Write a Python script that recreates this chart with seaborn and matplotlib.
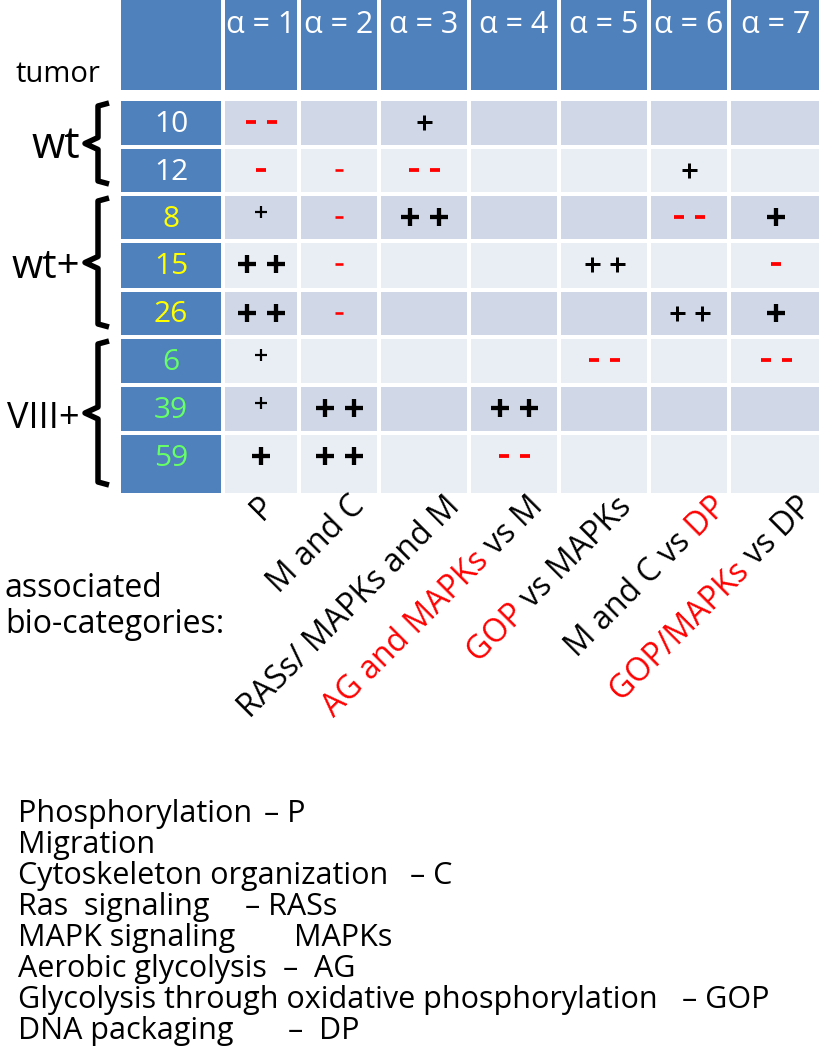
import numpy as np
import seaborn as sns
import matplotlib.pyplot as plt
from matplotlib.colors import ListedColormap

# table content
alphas = [1, 2, 3, 4, 5, 6, 7]
tumors = ["10", "12", "8", "15", "26", "6", "39", "59"]
groups = ["wt", "wt+", "VIII+"]
group_rows = [2, 3, 3]

# enrichment marks, one row per tumor, one column per alpha
marks = [
    ["--", "",   "+",  "",   "",   "",   ""],
    ["-",  "-",  "--", "",   "",   "+",  ""],
    ["+",  "-",  "++", "",   "",   "--", "+"],
    ["++", "-",  "",   "",   "++", "",   "-"],
    ["++", "-",  "",   "",   "",   "++", "+"],
    ["+",  "",   "",   "",   "--", "",   "--"],
    ["+",  "++", "",   "++", "",   "",   ""],
    ["+",  "++", "",   "--", "",   "",   ""],
]

# associated bio-categories per alpha (True = written in red)
categories = [
    [("P", False)],
    [("M and C", False)],
    [("RASs/ MAPKs and M", False)],
    [("AG and MAPKs", True), (" vs M", False)],
    [("GOP", True), (" vs MAPKs", False)],
    [("M and C vs", False), (" DP", True)],
    [("GOP/MAPKs", True), (" vs DP", False)],
]

legend_terms = ["Phosphorylation", "Migration", "Cytoskeleton organization",
                "Ras  signaling", "MAPK signaling", "Aerobic glycolysis",
                "Glycolysis through oxidative phosphorylation", "DNA packaging"]
legend_abbrevs = ["\u2013 P", "", "\u2013 C", "\u2013 RASs", "MAPKs",
                  "\u2013  AG", "\u2013 GOP", "\u2013  DP"]

# ---- styling / layout ----
# drawn size of each mark: s small, m medium, b big
mark_size = [
    ["m", "",  "m", "",  "",  "",  ""],
    ["m", "s", "m", "",  "",  "m", ""],
    ["s", "s", "b", "",  "",  "m", "b"],
    ["b", "s", "",  "",  "m", "",  "m"],
    ["b", "s", "",  "",  "",  "m", "b"],
    ["s", "",  "",  "",  "m", "",  "m"],
    ["s", "b", "",  "b", "",  "",  ""],
    ["b", "b", "",  "m", "",  "",  ""],
]
plus_style = {"s": (12, 2.2, 20), "m": (15, 3.0, 25), "b": (18, 4.3, 29)}  # width, stroke, pair gap (px)
dash_style = {"s": (8, 2.6, 20), "m": (10, 3.8, 21)}
group_colors = {"wt": "white", "wt+": "#FFFF00", "VIII+": "#66FF66"}
group_fs = {"wt": 31, "wt+": 29, "VIII+": 26}
blue, shade_dark, shade_light = "#4F81BD", "#D0D8E8", "#E9EDF4"

W, H = 819, 1050
col_edges = [119, 223, 299, 379, 469, 559, 649, 729, 823]
row_edges = [99, 146.5, 194, 241, 289.5, 337, 385, 432.5, 495]
col_mid = [(a + b) / 2 for a, b in zip(col_edges[:-1], col_edges[1:])]
label_dx = [-3, 9, 19, 13, 11, 21, 20]
legend_top, legend_step = 822, 31
abbrev_x = [264, 0, 410, 245, 294, 283, 682, 288]
px = 0.72  # points per pixel at 100 dpi

sns.set_theme(style="white")
plt.rcParams["font.family"] = ["Open Sans", "DejaVu Sans"]
plt.rcParams["text.color"] = "black"

fig = plt.figure(figsize=(8.19, 10.5), dpi=100)
ax = fig.add_axes([0, 0, 1, 1])
ax.set_xlim(0, W)
ax.set_ylim(H, 0)
ax.axis("off")

cell_cmap = ListedColormap([shade_dark, shade_light, blue])
head = np.full((1, len(col_edges) - 1), 2)
ax.pcolormesh(col_edges, [-5, 92], head, cmap=cell_cmap, vmin=0, vmax=2,
              edgecolors="white", linewidth=4 * px)
shade = np.array([[2] + [i % 2] * len(alphas) for i in range(len(tumors))])
ax.pcolormesh(col_edges, row_edges, shade, cmap=cell_cmap, vmin=0, vmax=2,
              edgecolors="white", linewidth=4 * px)

# header
for j, a in enumerate(alphas):
    ax.text(col_mid[j + 1], 33, f"\u03b1 = {a}", ha="center", va="baseline",
            color="white", fontsize=22)
ax.text(15, 82, "tumor", ha="left", va="baseline", fontsize=21)

# tumor ids, braces and group names
row_group = [g for g, n in zip(groups, group_rows) for _ in range(n)]
for i, t in enumerate(tumors):
    ax.text(col_mid[0], row_edges[i] + 33, t, ha="center", va="baseline",
            color=group_colors[row_group[i]], fontsize=21.5)

start = 0
for g, n in zip(groups, group_rows):
    top = row_edges[start] + 4
    bot = row_edges[start + n] - 10
    mid = (top + bot) / 2
    bx = [109, 98, 98, 85, 98, 98, 109]
    by = [top, top + 3, mid - 6, mid, mid + 6, bot - 3, bot]
    ax.plot(bx, by, color="black", lw=5.5 * px, solid_joinstyle="round",
            solid_capstyle="butt")
    ax.text(80, mid + 15, g, ha="right", va="baseline", fontsize=group_fs[g])
    start += n

# marks
for i, row in enumerate(marks):
    yc = row_edges[i] + 23
    for j, m in enumerate(row):
        if not m:
            continue
        size = mark_size[i][j]
        if m[0] == "+":
            w, lw, gap = plus_style[size]
            marker, color = "+", "black"
            y = yc - (5 if size == "s" else 0)
        else:
            w, lw, gap = dash_style[size]
            marker, color = "_", "red"
            y = yc
        x = col_mid[j + 1]
        xs = [x] if len(m) == 1 else [x - gap / 2, x + gap / 2]
        ax.scatter(xs, [y] * len(xs), marker=marker, s=(w * px) ** 2,
                   linewidths=lw * px, color=color, zorder=3)

# rotated bio-category labels
fig.canvas.draw()
renderer = fig.canvas.get_renderer()
lab_fs = 23


def text_width(s):
    t = ax.text(0, 0, s, fontsize=lab_fs)
    w = t.get_window_extent(renderer).width
    t.remove()
    return w


ux, uy = np.cos(np.pi / 4), -np.sin(np.pi / 4)
for j, parts in enumerate(categories):
    full = "".join(p for p, _ in parts)
    wfull = text_width(full)
    ex, ey = col_mid[j + 1] + label_dx[j], 490
    sx, sy = ex - wfull * ux, ey - wfull * uy
    prefix = ""
    for piece, red in parts:
        off = text_width(prefix) if prefix else 0
        ax.text(sx + off * ux, sy + off * uy, piece, rotation=45,
                rotation_mode="anchor", ha="left", va="top", fontsize=lab_fs,
                color="red" if red else "black")
        prefix += piece

ax.text(5, 597, "associated", ha="left", va="baseline", fontsize=23)
ax.text(5, 633, "bio-categories:", ha="left", va="baseline", fontsize=23)

# abbreviation legend
for k, (term, abbr, x) in enumerate(zip(legend_terms, legend_abbrevs, abbrev_x)):
    y = legend_top + k * legend_step
    ax.text(18, y, term, ha="left", va="baseline", fontsize=22)
    if abbr:
        ax.text(x, y, abbr, ha="left", va="baseline", fontsize=22)

fig.savefig("out.png", dpi=100)
